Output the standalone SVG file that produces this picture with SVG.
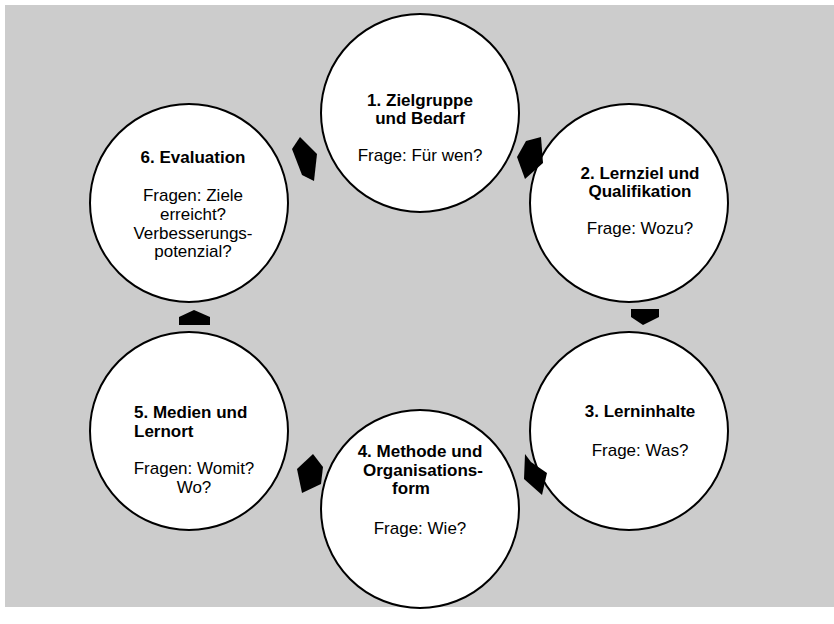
<svg xmlns="http://www.w3.org/2000/svg" width="834" height="624" viewBox="0 0 834 624">
  <style>
    .node circle { fill: #ffffff; stroke: #000000; stroke-width: 2; }
    .title { font-family: "Liberation Sans", Arial, sans-serif; font-size: 17px; font-weight: bold; fill: #000; text-anchor: middle; }
    .q { font-family: "Liberation Sans", Arial, sans-serif; font-size: 17px; fill: #000; text-anchor: middle; }
    .left { text-anchor: start; }
    .arrow { fill: #000000; stroke: none; }
  </style>
  <rect x="5" y="5" width="829" height="602" fill="#cccccc"/>

  <g id="node1" class="node">
    <circle cx="420" cy="113" r="99"/>
    <text class="title" x="420" y="106">1. Zielgruppe</text>
    <text class="title" x="420" y="124">und Bedarf</text>
    <text class="q" x="420" y="161">Frage: Für wen?</text>
  </g>
  <g id="node2" class="node">
    <circle cx="629" cy="203" r="99"/>
    <text class="title" x="640" y="179">2. Lernziel und</text>
    <text class="title" x="640" y="197">Qualifikation</text>
    <text class="q" x="640" y="234">Frage: Wozu?</text>
  </g>
  <g id="node3" class="node">
    <circle cx="629" cy="431" r="99"/>
    <text class="title" x="640" y="417">3. Lerninhalte</text>
    <text class="q" x="640" y="456">Frage: Was?</text>
  </g>
  <g id="node4" class="node">
    <circle cx="420" cy="509" r="99"/>
    <text class="title" x="420" y="457">4. Methode und</text>
    <text class="title" x="423" y="476">Organisations-</text>
    <text class="title" x="411" y="494">form</text>
    <text class="q" x="420" y="534">Frage: Wie?</text>
  </g>
  <g id="node5" class="node">
    <circle cx="189" cy="431" r="99"/>
    <text class="title left" x="134" y="418">5. Medien und</text>
    <text class="title left" x="134" y="437">Lernort</text>
    <text class="q" x="194" y="474">Fragen: Womit?</text>
    <text class="q" x="194" y="493">Wo?</text>
  </g>
  <g id="node6" class="node">
    <circle cx="189" cy="203" r="99"/>
    <text class="title" x="193" y="163">6. Evaluation</text>
    <text class="q" x="193" y="201">Fragen: Ziele</text>
    <text class="q" x="193" y="220">erreicht?</text>
    <text class="q" x="193" y="239">Verbesserungs-</text>
    <text class="q" x="193" y="257">potenzial?</text>
  </g>

  <g id="connectors">
    <polygon class="arrow" points="300,137 317,154 314,181 302,175 292,149"/>
    <polygon class="arrow" points="526,141 541,137 543,163 525,179 517,157"/>
    <polygon class="arrow" points="631,309 659,309 659,317 643,325 631,317"/>
    <polygon class="arrow" points="525,454 531,462 547,473 542,495 524,479"/>
    <polygon class="arrow" points="313,454 323,467 321,484 302,493 297,469"/>
    <polygon class="arrow" points="179,325 210,325 210,317 194,310 179,317"/>
  </g>
</svg>
